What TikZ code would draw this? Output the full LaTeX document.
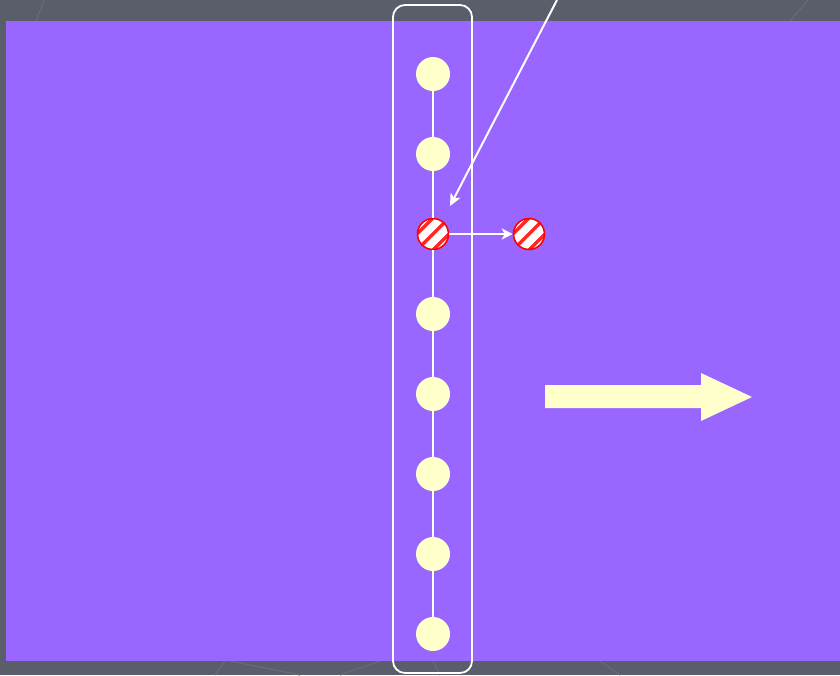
\documentclass[tikz,border=0pt]{standalone}
\usetikzlibrary{arrows.meta}
\definecolor{bg}{HTML}{5A5D6A}
\definecolor{faint}{HTML}{676A77}
\definecolor{purp}{HTML}{9966FF}
\definecolor{yel}{HTML}{FFFFCC}
\definecolor{stred}{HTML}{FF0000}
\tikzset{
  dot/.style={circle, fill=yel, minimum size=34pt, inner sep=0pt},
  stripedot/.style={circle, draw=stred, line width=1.6pt, minimum size=31pt, inner sep=0pt,
    path picture={
      \fill[white] (path picture bounding box.south west) rectangle (path picture bounding box.north east);
      \foreach \i in {-2,...,2}
        \draw[stred!85, line width=3.4pt] ([shift={(\i*16-22,22)}]path picture bounding box.center) -- ++(44,-44);
    }},
  link/.style={white, line width=2pt},
  faintline/.style={faint, line width=1.2pt}
}
\begin{document}
\begin{tikzpicture}[x=1pt,y=-1pt]
\useasboundingbox (0,0) rectangle (840,675);
\fill[bg] (0,0) rectangle (840,675);
% faint background lines
\draw[faintline] (44,0) -- (36,21);
\draw[faintline] (808,0) -- (790,21);
\draw[faintline] (215,675) -- (225,661);
\draw[faintline] (230,661) -- (300,675);
\draw[faintline] (340,675) -- (380,661);
\draw[faintline] (433,661) -- (440,675);
\draw[faintline] (600,661) -- (620,675);
\fill[purp] (6,21) rectangle (840,661);
\draw[white, line width=1.8pt, rounded corners=12pt] (393,5) rectangle (472,673);
\node[dot] (n1) at (433,74) {};
\node[dot] (n2) at (433,154) {};
\node[stripedot] (s1) at (433,234) {};
\node[dot] (n4) at (433,314) {};
\node[dot] (n5) at (433,394) {};
\node[dot] (n6) at (433,474) {};
\node[dot] (n7) at (433,554) {};
\node[dot] (n8) at (433,634) {};
\node[stripedot] (s2) at (529,234) {};
\draw[link] (n1) -- (n2);
\draw[link] (n2) -- (s1);
\draw[link] (s1) -- (n4);
\draw[link] (n4) -- (n5);
\draw[link] (n5) -- (n6);
\draw[link] (n6) -- (n7);
\draw[link] (n7) -- (n8);
\draw[link, -{Stealth[length=11pt,width=11pt,inset=3pt]}] (s1) -- (s2);
\coordinate (top) at (557,0);
\coordinate (tip) at (450,206);
\draw[link, -{Stealth[length=12pt,width=11pt,inset=3pt]}] (top) -- (tip);
\fill[yel] (545,385) -- (701,385) -- (701,373) -- (752,397) -- (701,421) -- (701,408) -- (545,408) -- cycle;
\end{tikzpicture}
\end{document}
